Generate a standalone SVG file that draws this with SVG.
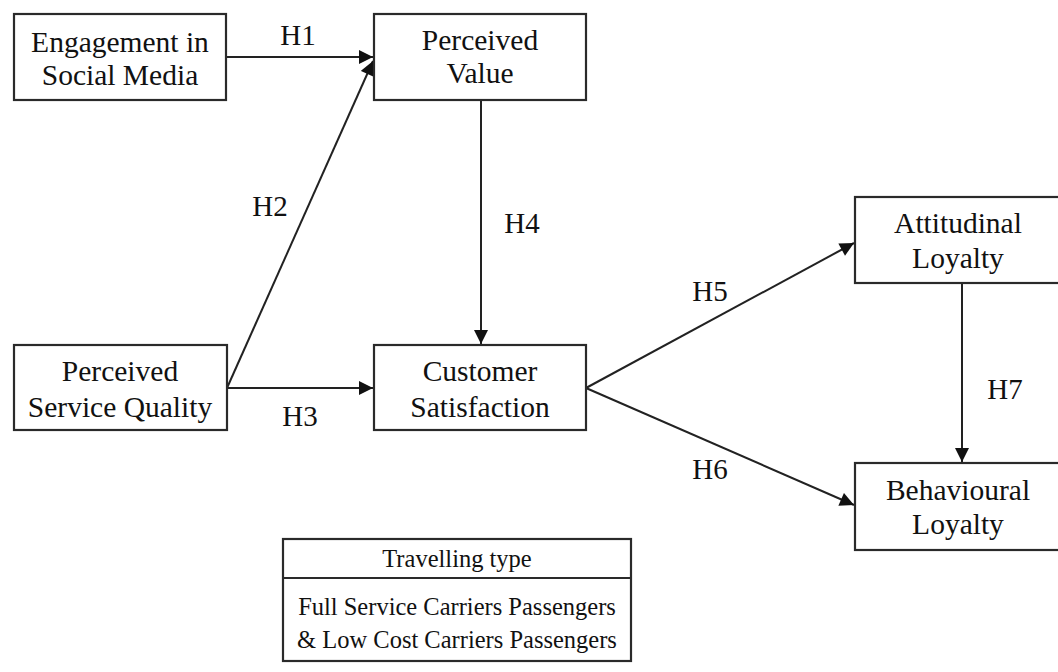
<svg xmlns="http://www.w3.org/2000/svg" width="1058" height="672" viewBox="0 0 1058 672">
<defs>
<style>
.box{fill:#fff;stroke:#2a2a2a;stroke-width:2.2}
.t{font-family:'Liberation Serif','Times New Roman',serif;font-size:29.5px;fill:#111;text-anchor:middle}
.h{font-family:'Liberation Serif','Times New Roman',serif;font-size:29px;fill:#111;text-anchor:middle}
.s{font-family:'Liberation Serif','Times New Roman',serif;font-size:24.5px;fill:#111;text-anchor:middle}
.c{stroke:#222;stroke-width:2;fill:none;marker-end:url(#arr)}
</style>
<marker id="arr" viewBox="0 0 10 10" refX="10" refY="5" markerWidth="8" markerHeight="7" orient="auto" markerUnits="strokeWidth">
<path d="M0,0 L10,5 L0,10 Z" fill="#111"/>
</marker>
</defs>
<rect width="1058" height="672" fill="#fff"/>
<g id="connectors">
<line class="c" x1="226" y1="57" x2="373" y2="57"/>
<line class="c" x1="227" y1="388" x2="373" y2="61"/>
<line class="c" x1="227" y1="388" x2="373" y2="388"/>
<line class="c" x1="481" y1="100" x2="481" y2="344"/>
<line class="c" x1="586" y1="388" x2="854" y2="243"/>
<line class="c" x1="586" y1="388" x2="854" y2="505"/>
<line class="c" x1="962" y1="283" x2="962" y2="462"/>
<text class="h" x="298" y="45">H1</text>
<text class="h" x="270" y="216">H2</text>
<text class="h" x="300" y="426">H3</text>
<text class="h" x="522" y="233">H4</text>
<text class="h" x="710" y="301">H5</text>
<text class="h" x="710" y="479">H6</text>
<text class="h" x="1005" y="399">H7</text>
</g>
<g id="engagement">
<rect class="box" x="14" y="14" width="212" height="86"/>
<text class="t" x="120" y="52">Engagement in</text>
<text class="t" x="120" y="85">Social Media</text>
</g>
<g id="perceived-value">
<rect class="box" x="374" y="14" width="212" height="86"/>
<text class="t" x="480" y="50">Perceived</text>
<text class="t" x="480" y="83">Value</text>
</g>
<g id="service-quality">
<rect class="box" x="14" y="345" width="213" height="85"/>
<text class="t" x="120" y="381">Perceived</text>
<text class="t" x="120" y="417">Service Quality</text>
</g>
<g id="customer-satisfaction">
<rect class="box" x="374" y="345" width="212" height="85"/>
<text class="t" x="480" y="381">Customer</text>
<text class="t" x="480" y="417">Satisfaction</text>
</g>
<g id="attitudinal-loyalty">
<rect class="box" x="855" y="197" width="215" height="86"/>
<text class="t" x="958" y="233">Attitudinal</text>
<text class="t" x="958" y="268">Loyalty</text>
</g>
<g id="behavioural-loyalty">
<rect class="box" x="855" y="463" width="215" height="87"/>
<text class="t" x="958" y="500">Behavioural</text>
<text class="t" x="958" y="534">Loyalty</text>
</g>
<g id="travelling-type">
<rect class="box" x="283" y="539" width="348" height="122"/>
<line x1="283" y1="578" x2="631" y2="578" stroke="#2a2a2a" stroke-width="2.2"/>
<text class="s" x="457" y="567">Travelling type</text>
<text class="s" x="457" y="615">Full Service Carriers Passengers</text>
<text class="s" x="457" y="648">&amp; Low Cost Carriers Passengers</text>
</g>
</svg>
